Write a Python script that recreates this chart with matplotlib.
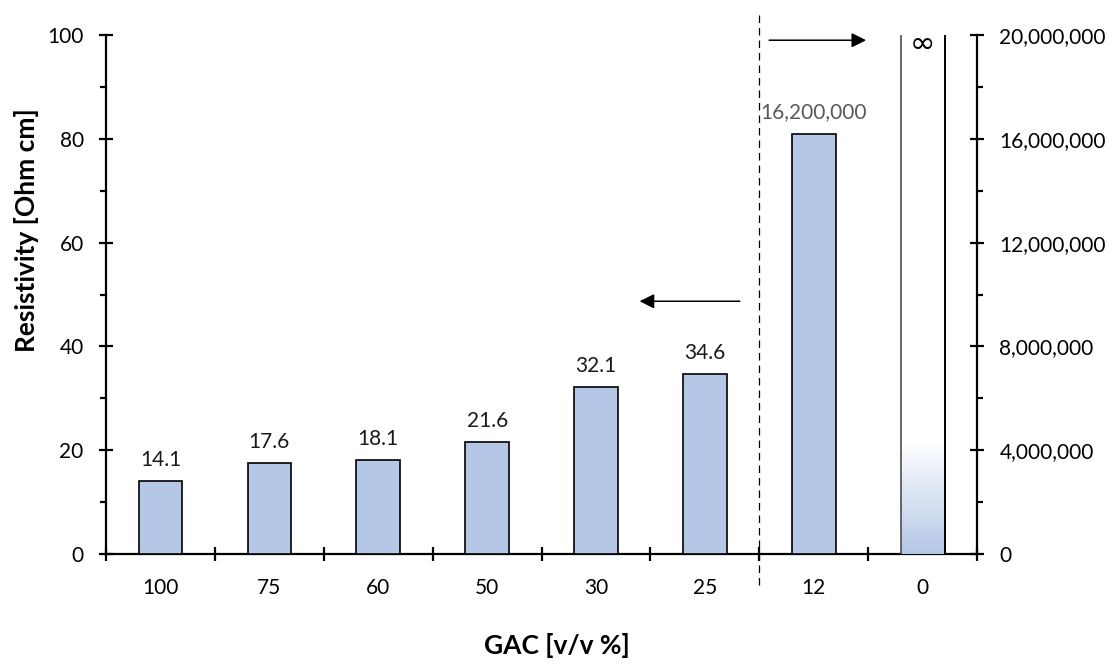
import numpy as np
import matplotlib
matplotlib.use("Agg")
import matplotlib.pyplot as plt
from matplotlib.ticker import MultipleLocator, FuncFormatter, FixedLocator
from matplotlib.colors import LinearSegmentedColormap
import matplotlib.transforms as mtransforms

plt.rcParams['font.family'] = ['Lato', 'DejaVu Sans']

# Data
categories = ["100", "75", "60", "50", "30", "25", "12", "0"]
left_values = [14.1, 17.6, 18.1, 21.6, 32.1, 34.6]          # Ohm cm, left axis
right_values = [16_200_000]                                 # Ohm cm, right axis
right_labels = ["16,200,000"]
left_ylim = (0, 100)
right_ylim = (0, 20_000_000)

bar_color = "#B4C7E7"
width = 0.4
tick_fs = 15
title_fs = 19

fig = plt.figure(figsize=(11.13, 6.71), dpi=100)
ax = fig.add_axes([0.0952, 0.1744, 0.878 - 0.0952, 0.9478 - 0.1744])
ax2 = ax.twinx()

x = np.arange(len(categories))
xl = x[:len(left_values)]
xr = x[len(left_values):len(left_values) + len(right_values)]
x_inf = x[-1]

# Bars on the left axis
ax.bar(xl, left_values, width=width, color=bar_color, edgecolor="black", linewidth=1.2, zorder=3)
for xi, v in zip(xl, left_values):
    ax.annotate(f"{v:.1f}", (xi, v), xytext=(0, 8), textcoords="offset points",
                ha="center", va="bottom", fontsize=tick_fs, color="#1a1a1a")

# Bar on the right axis
ax2.bar(xr, right_values, width=width, color=bar_color, edgecolor="black", linewidth=1.2, zorder=3)
for xi, v, lab in zip(xr, right_values, right_labels):
    ax2.annotate(lab, (xi, v), xytext=(0, 8), textcoords="offset points",
                 ha="center", va="bottom", fontsize=tick_fs, color="#595959")

# Infinite-resistivity column: open sides up to the axis top, fading fill at the base
inf_top = right_ylim[1]
fade_top = 4_300_000
cmap = LinearSegmentedColormap.from_list("fade", [bar_color, "#ffffff"])
grad = np.linspace(0, 1, 256).reshape(-1, 1)
ax2.imshow(grad, aspect="auto", cmap=cmap, origin="lower",
           extent=[x_inf - width / 2, x_inf + width / 2, 0, fade_top], zorder=2)
ax2.vlines(x_inf - width / 2, 0, inf_top, color="#404040", linewidth=1.1, zorder=3)
ax2.vlines(x_inf + width / 2, 0, inf_top, color="black", linewidth=1.4, zorder=3)
ax2.text(x_inf, inf_top * 0.98, "\u221e", ha="center", va="center", fontsize=22, color="black",
         family=["Noto Sans", "DejaVu Sans"])

# Limits
ax.set_xlim(-0.5, len(categories) - 0.5)
ax.set_ylim(*left_ylim)
ax2.set_ylim(*right_ylim)
ax2.set_xlim(-0.5, len(categories) - 0.5)

# Spines
for a in (ax, ax2):
    a.spines["top"].set_visible(False)
    for s in ("left", "right", "bottom"):
        a.spines[s].set_linewidth(1.6)
ax.spines["right"].set_visible(False)
ax2.spines["left"].set_visible(False)
ax2.spines["bottom"].set_visible(False)

# Left axis ticks
ax.yaxis.set_major_locator(MultipleLocator(20))
ax.yaxis.set_minor_locator(MultipleLocator(10))
ax.tick_params(axis="y", which="major", direction="inout", length=10, width=1.6, pad=11, labelsize=tick_fs)
ax.tick_params(axis="y", which="minor", direction="out", length=4.3, width=1.6)

# Right axis ticks
ax2.yaxis.set_major_locator(MultipleLocator(4_000_000))
ax2.yaxis.set_minor_locator(MultipleLocator(2_000_000))
ax2.yaxis.set_major_formatter(FuncFormatter(lambda v, p: f"{int(v):,}"))
ax2.tick_params(axis="y", which="major", direction="inout", length=10, width=1.6, pad=11, labelsize=tick_fs)
ax2.tick_params(axis="y", which="minor", direction="out", length=4.3, width=1.6)

# X axis: labels at categories, tick marks at boundaries
ax.set_xticks(x)
ax.set_xticklabels(categories)
ax.xaxis.set_minor_locator(FixedLocator(np.arange(-0.5, len(categories), 1.0)))
ax.tick_params(axis="x", which="major", length=0, pad=17, labelsize=tick_fs)
ax.tick_params(axis="x", which="minor", direction="inout", length=10, width=1.6)

# Axis titles
fig.text(27 / 1113, 1 - 230 / 671, "Resistivity [Ohm cm]", rotation=90, ha="center", va="center",
         fontsize=title_fs, fontweight="bold")
fig.text(557 / 1113, 1 - 645 / 671, "GAC [v/v %]", ha="center", va="center",
         fontsize=title_fs, fontweight="bold")

# Dashed separator between the two scales
sep = len(left_values) - 0.5
trans = mtransforms.blended_transform_factory(ax.transData, ax.transAxes)
ax.plot([sep, sep], [-0.06, 1.044], transform=trans, color="black", linestyle=(0, (6, 4)),
        linewidth=0.9, clip_on=False, zorder=4)

# Direction arrows
ax.annotate("", xy=(6.48, 99.0), xytext=(5.59, 99.0),
            arrowprops=dict(arrowstyle="-|>", color="black", lw=1.1, mutation_scale=22,
                            shrinkA=0, shrinkB=0), annotation_clip=False)
ax.annotate("", xy=(4.40, 48.7), xytext=(5.32, 48.7),
            arrowprops=dict(arrowstyle="-|>", color="black", lw=1.1, mutation_scale=22,
                            shrinkA=0, shrinkB=0), annotation_clip=False)

fig.savefig("out.png", dpi=100)
